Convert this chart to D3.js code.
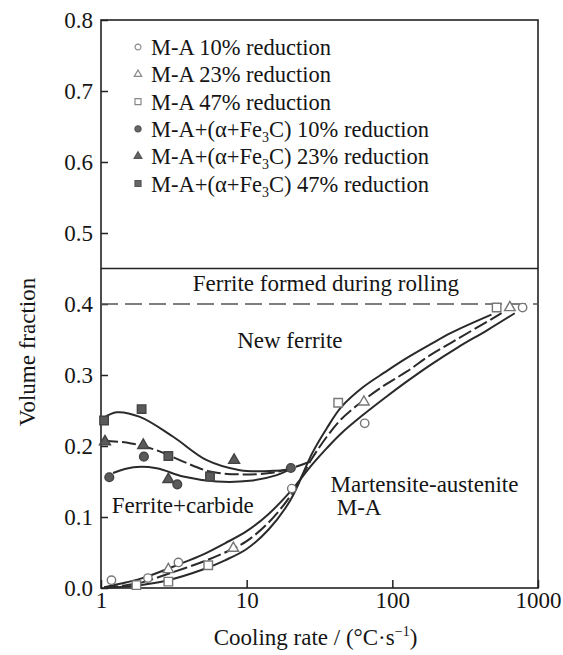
<!DOCTYPE html>
<html>
<head>
<meta charset="utf-8">
<script src="https://cdn.jsdelivr.net/npm/d3@7"></script>
<style>
body { margin: 0; background: #fff; }
svg { display: block; }
text { font-family: "Liberation Serif", "Times New Roman", serif; fill: #151515; }
</style>
</head>
<body>
<script>
var W = 563, H = 655;
var margin = {top: 20, right: 25, bottom: 67, left: 101};
var w = W - margin.left - margin.right;
var h = H - margin.top - margin.bottom;

// axis ticks
var xTicks = [1, 10, 100, 1000];
var yTicks = [0, 0.1, 0.2, 0.3, 0.4, 0.5, 0.6, 0.7, 0.8];
var dividerY = 0.45;
var rollingFerrite = 0.4;

var legendNames = ["10% reduction", "23% reduction", "47% reduction"];

// measured points [cooling rate, volume fraction]
var maCircles   = [[1.18, 0.011], [2.1, 0.014], [3.4, 0.036], [20.4, 0.140], [64.6, 0.232], [784, 0.395]];
var maTriangles = [[2.9, 0.026], [8.1, 0.056], [63.8, 0.262], [641, 0.395]];
var maSquares   = [[1.75, 0.004], [2.9, 0.009], [5.45, 0.032], [42.5, 0.261], [520, 0.395]];
var mixCircles   = [[1.14, 0.156], [1.97, 0.185], [3.34, 0.146], [20.1, 0.169]];
var mixTriangles = [[1.065, 0.206], [1.95, 0.201], [2.9, 0.153], [8.2, 0.180]];
var mixSquares   = [[1.05, 0.236], [1.9, 0.252], [2.9, 0.186], [5.6, 0.157]];

// fitted curves
var maCurve10 = [[1.05, 0.001], [1.5, 0.008], [2.0, 0.015], [3.4, 0.033], [5.0, 0.047], [7.1, 0.063], [10, 0.080], [14.1, 0.104], [20, 0.136], [28.2, 0.174], [35.5, 0.197], [44.7, 0.218], [63.1, 0.244], [89.1, 0.268], [126, 0.291], [182, 0.314], [282, 0.339], [447, 0.363], [692, 0.387]];
var maCurve23 = [[1.05, 0.0], [1.5, 0.004], [2.0, 0.009], [2.9, 0.02], [5.0, 0.037], [7.1, 0.050], [10, 0.066], [14.1, 0.092], [20, 0.130], [28.2, 0.183], [35.5, 0.213], [44.7, 0.238], [63.1, 0.264], [89.1, 0.286], [126, 0.305], [182, 0.328], [251, 0.345], [562, 0.387]];
var maCurve47 = [[1.05, 0.0], [1.5, 0.002], [2.0, 0.005], [2.9, 0.011], [5.0, 0.026], [7.1, 0.039], [10, 0.055], [14.1, 0.082], [20, 0.124], [28.2, 0.19], [35.5, 0.225], [44.7, 0.255], [63.1, 0.283], [89.1, 0.304], [126, 0.324], [182, 0.343], [251, 0.359], [479, 0.385]];
var mixCurve10 = [[1.21, 0.162], [1.67, 0.170], [2.41, 0.1686], [3.67, 0.157], [6.22, 0.150], [10.5, 0.151], [16.1, 0.159], [19.3, 0.166]];
var mixCurve23 = [[1.05, 0.2075], [1.58, 0.204], [2.41, 0.194], [3.67, 0.178], [5.6, 0.164], [9.0, 0.160], [14.4, 0.162], [20.1, 0.1685], [27.2, 0.178]];
var mixCurve47 = [[1.05, 0.240], [1.28, 0.2475], [1.85, 0.241], [3.13, 0.213], [5.32, 0.180], [9.0, 0.166], [15.2, 0.165], [19.8, 0.167]];

var svg = d3.select("body").append("svg")
  .attr("width", W)
  .attr("height", H);

var g = svg.append("g")
  .attr("transform", "translate(" + margin.left + "," + margin.top + ")");

var xScale = d3.scaleLog().domain([1, 1000]).range([0, w]);
var yScale = d3.scaleLinear().domain([0, 0.8]).range([h, 0]);

// axes, ticks point inwards
var xAxis = d3.axisBottom(xScale).tickValues(xTicks).tickFormat(d3.format("d"))
  .tickSizeInner(-8).tickSizeOuter(0).tickPadding(4);
var yAxis = d3.axisLeft(yScale).tickValues(yTicks).tickFormat(d3.format(".1f"))
  .tickSizeInner(-7).tickSizeOuter(0).tickPadding(8);

var gx = g.append("g").attr("transform", "translate(0," + h + ")").call(xAxis);
var gy = g.append("g").call(yAxis);
[gx, gy].forEach(function(a) {
  a.select(".domain").remove();
  a.selectAll("line").attr("stroke", "#222").attr("stroke-width", 1.5);
  a.selectAll("text").attr("font-size", 23).attr("font-family", "Liberation Serif").attr("fill", "#151515");
});

// frame and divider
g.append("rect").attr("x", 0).attr("y", 0).attr("width", w).attr("height", h)
  .attr("fill", "none").attr("stroke", "#222").attr("stroke-width", 1.6);
g.append("line").attr("x1", 0).attr("x2", w)
  .attr("y1", yScale(dividerY)).attr("y2", yScale(dividerY))
  .attr("stroke", "#222").attr("stroke-width", 1.6);

// ferrite formed during rolling
g.append("line").attr("x1", 0).attr("x2", w)
  .attr("y1", yScale(rollingFerrite)).attr("y2", yScale(rollingFerrite))
  .attr("stroke", "#555").attr("stroke-width", 1.4).attr("stroke-dasharray", "17,7");

// curves
var line = d3.line()
  .x(function(d) { return xScale(d[0]); })
  .y(function(d) { return yScale(d[1]); })
  .curve(d3.curveCatmullRom.alpha(0.5));

var curves = [
  {data: maCurve10, dash: null},
  {data: maCurve23, dash: "14,4"},
  {data: maCurve47, dash: null},
  {data: mixCurve10, dash: null},
  {data: mixCurve23, dash: "14,4"},
  {data: mixCurve47, dash: null}
];
curves.forEach(function(c) {
  g.append("path").datum(c.data)
    .attr("d", line)
    .attr("fill", "none")
    .attr("stroke", "#2a2a2a")
    .attr("stroke-width", 2)
    .attr("stroke-dasharray", c.dash);
});

// markers
var series = [
  {data: maCircles, type: d3.symbolCircle, size: 55, filled: false},
  {data: maTriangles, type: d3.symbolTriangle, size: 48, filled: false},
  {data: maSquares, type: d3.symbolSquare, size: 72, filled: false},
  {data: mixCircles, type: d3.symbolCircle, size: 60, filled: true},
  {data: mixTriangles, type: d3.symbolTriangle, size: 52, filled: true},
  {data: mixSquares, type: d3.symbolSquare, size: 72, filled: true}
];
series.forEach(function(s) {
  g.selectAll(null).data(s.data).enter().append("path")
    .attr("transform", function(d) { return "translate(" + xScale(d[0]) + "," + yScale(d[1]) + ")"; })
    .attr("d", d3.symbol().type(s.type).size(s.size))
    .attr("fill", s.filled ? "#5a5a5a" : "#fff")
    .attr("stroke", s.filled ? "#444" : "#777")
    .attr("stroke-width", 1.4);
});

// legend
var legend = g.append("g").attr("transform", "translate(37,27)");
series.forEach(function(s, i) {
  var row = legend.append("g").attr("transform", "translate(0," + (i * 27.3) + ")");
  row.append("path")
    .attr("d", d3.symbol().type(s.type).size(s.size * 0.5))
    .attr("fill", s.filled ? "#666" : "#fff")
    .attr("stroke", s.filled ? "#555" : "#888")
    .attr("stroke-width", 1.2);
  var t = row.append("text").attr("x", 13).attr("y", 8).attr("font-size", 22.5);
  if (i < 3) {
    t.text("M-A " + legendNames[i]);
  } else {
    t.append("tspan").text("M-A+(\u03b1+Fe");
    t.append("tspan").attr("font-size", 14).attr("dy", 5).text("3");
    t.append("tspan").attr("dy", -5).text("C) " + legendNames[i - 3]);
  }
});

// region labels
var notes = [
  {text: "Ferrite formed during rolling", x: 35, y: 0.418, anchor: "middle"},
  {text: "New ferrite", x: 19.8, y: 0.3376, anchor: "middle"},
  {text: "Ferrite+carbide", x: 1.184, y: 0.105, anchor: "start"},
  {text: "Martensite-austenite", x: 37.7, y: 0.1356, anchor: "start"},
  {text: "M-A", x: 41.5, y: 0.1028, anchor: "start"}
];
g.selectAll(null).data(notes).enter().append("text")
  .attr("x", function(d) { return xScale(d.x); })
  .attr("y", function(d) { return yScale(d.y); })
  .attr("text-anchor", function(d) { return d.anchor; })
  .attr("font-size", 23)
  .text(function(d) { return d.text; });

// axis titles
svg.append("text")
  .attr("transform", "translate(35,352) rotate(-90)")
  .attr("text-anchor", "middle")
  .attr("font-size", 23)
  .text("Volume fraction");

var xt = svg.append("text")
  .attr("x", margin.left + w / 2 - 4)
  .attr("y", 645)
  .attr("text-anchor", "middle")
  .attr("font-size", 23);
xt.append("tspan").text("Cooling rate / (\u00b0C\u00b7s");
xt.append("tspan").attr("font-size", 14).attr("dy", -9).text("\u22121");
xt.append("tspan").attr("dy", 9).text(")");
</script>
</body>
</html>
